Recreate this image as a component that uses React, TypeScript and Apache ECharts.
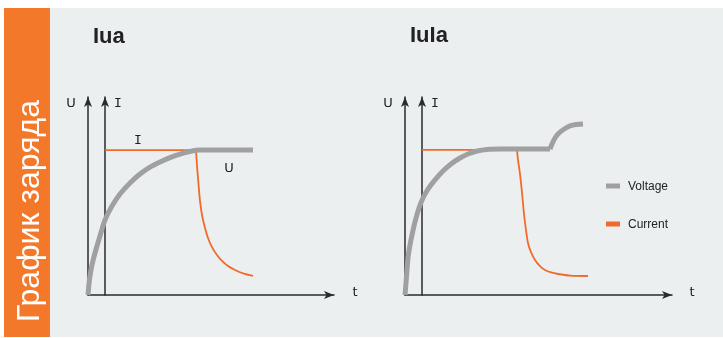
import React, { useEffect, useRef } from "react";
import * as echarts from "echarts";

// ---- data ----
const sideTitle = "График заряда";
const chartTitles = ["Iua", "IuIa"];
const legendNames = ["Voltage", "Current"];
const axisNames = ["U", "I", "t"];
const curveLabels = ["I", "U"];

// points: [t, value], t on 0..~100, value on 0..100
const iuaVoltage: [number, number][] = [
  [0, 0], [0.4, 5.6], [0.8, 9.6], [1.6, 15.2], [2.8, 21.2], [4.8, 29.8],
  [6.8, 37.9], [9.6, 44.9], [12.8, 51], [16.8, 56.6], [20.8, 61.1],
  [24.8, 64.6], [28.8, 67.2], [32.8, 69.4], [36.8, 71.2], [40.8, 72.5],
  [44.8, 73.2], [55, 73.2], [66, 73.2],
];
const iuaCurrentFlat: [number, number][] = [[6.8, 73.2], [43.2, 73.2]];
const iuaCurrentDecay: [number, number][] = [
  [43.2, 73.2], [43.4, 69.2], [43.6, 65.2], [44, 59.1], [44.4, 53],
  [44.8, 47.5], [45.6, 40.4], [46.8, 33.8], [48, 28.8], [49.6, 24.2],
  [51.6, 20.2], [53.6, 17.2], [56, 14.6], [58.8, 12.6], [62, 10.9], [66, 9.6],
];

const iuiaVoltageRise: [number, number][] = [
  [0, 0], [0.4, 6.1], [0.8, 12.6], [1.2, 18.7], [2, 25.3], [2.8, 30.3],
  [4, 36.9], [5.6, 43.9], [7.2, 49], [9.2, 53.5], [12, 58.1], [15.2, 62.6],
  [18.4, 66.2], [22, 69.2], [25.2, 71.2], [28.8, 72.7], [32.8, 73.5],
  [38, 73.7], [48, 73.7], [58, 73.7],
];
const iuiaVoltageBump: [number, number][] = [
  [58, 73.7], [58.8, 76.3], [60, 79.3], [61.6, 81.8], [64, 84.1],
  [66, 85.4], [68.4, 86.1], [71.2, 86.4],
];
const iuiaCurrentFlat: [number, number][] = [[6.8, 73.3], [44.8, 73.3]];
const iuiaCurrentDecay: [number, number][] = [
  [44.8, 73.3], [45.2, 68.2], [45.8, 63.1], [46.4, 56.6], [47, 49],
  [47.6, 40.9], [48.4, 32.8], [49.2, 26.3], [50.4, 21.7], [52, 17.7],
  [54, 14.6], [56, 12.6], [58.4, 11.4], [61.2, 10.6], [66, 9.8], [73.2, 9.6],
];

// ---- styles ----
const ORANGE_BAND = "#F47829";
const PANEL_BG = "#ECEFF0";
const AXIS_COLOR = "#272B30";
const VOLT_COLOR = "#A0A0A0";
const CURR_COLOR = "#F26A2B";
const TEXT_COLOR = "#222222";

export default function App() {
  const ref = useRef<HTMLDivElement>(null);

  useEffect(() => {
    if (!ref.current) return;
    const chart = echarts.init(ref.current, undefined, { renderer: "svg" });

    const axisLine = {
      show: true,
      onZero: false,
      symbol: ["none", "arrow"],
      symbolSize: [6, 10],
      lineStyle: { color: AXIS_COLOR, width: 1.5 },
    };
    const hiddenParts = {
      axisTick: { show: false },
      axisLabel: { show: false },
      splitLine: { show: false },
    };
    const xAx = (gridIndex: number, max: number) => ({
      type: "value", gridIndex, min: 0, max, axisLine, ...hiddenParts,
    });
    const yAx = (gridIndex: number, offset: number) => ({
      type: "value", gridIndex, min: 0, max: 100, position: "left", offset,
      axisLine, ...hiddenParts,
    });

    const line = (
      name: string, data: [number, number][], idx: number, yIdx: number,
      color: string, width: number, smooth: number | boolean, z: number
    ) => ({
      type: "line", name, data, xAxisIndex: idx, yAxisIndex: yIdx,
      showSymbol: false, symbol: "none", smooth, z, silent: true,
      lineStyle: { color, width, cap: "butt" }, itemStyle: { color },
      emphasis: { disabled: true },
    });

    const txt = (
      text: string, x: number, y: number, size: number, font: string,
      extra: any = {}
    ) => ({
      type: "text", x, y, z: 100, silent: true,
      style: {
        text, fill: TEXT_COLOR, font: `${extra.weight || "normal"} ${size}px ${font}`,
        align: extra.align || "center", verticalAlign: "middle",
      },
    });

    const option: any = {
      animation: false,
      grid: [
        { left: 88, top: 97, width: 246, height: 198 },
        { left: 405, top: 97, width: 267, height: 198 },
      ],
      xAxis: [xAx(0, 98.4), xAx(1, 106.8)],
      yAxis: [yAx(0, 0), yAx(0, -17), yAx(1, 0), yAx(1, -17)],
      legend: {
        orient: "vertical",
        left: 606,
        top: 180,
        padding: 0,
        itemGap: 26,
        itemWidth: 14,
        itemHeight: 5,
        icon: "rect",
        selectedMode: false,
        data: legendNames,
        textStyle: { fontFamily: "'Liberation Sans', Arial", fontSize: 12, color: TEXT_COLOR, padding: [0, 0, 0, 3] },
      },
      series: [
        line(legendNames[1], iuaCurrentFlat, 0, 0, CURR_COLOR, 1.8, false, 3),
        line(legendNames[1], iuaCurrentDecay, 0, 0, CURR_COLOR, 1.8, 0.3, 3),
        line(legendNames[0], iuaVoltage, 0, 0, VOLT_COLOR, 5, 0.3, 4),
        line(legendNames[1], iuiaCurrentFlat, 1, 2, CURR_COLOR, 1.8, false, 3),
        line(legendNames[1], iuiaCurrentDecay, 1, 2, CURR_COLOR, 1.8, 0.3, 3),
        line(legendNames[0], iuiaVoltageRise, 1, 2, VOLT_COLOR, 5, 0.3, 4),
        line(legendNames[0], iuiaVoltageBump, 1, 2, VOLT_COLOR, 5, 0.3, 4),
      ],
      graphic: [
        { type: "rect", z: -10, silent: true, shape: { x: 4, y: 8, width: 46, height: 329 }, style: { fill: ORANGE_BAND } },
        { type: "rect", z: -10, silent: true, shape: { x: 50, y: 8, width: 673, height: 329 }, style: { fill: PANEL_BG } },
        {
          type: "text", x: 28, y: 211, z: 100, silent: true, rotation: Math.PI / 2,
          style: {
            text: sideTitle, fill: "#FFFFFF", font: "normal 32px 'Liberation Sans', Arial, sans-serif",
            align: "center", verticalAlign: "middle",
          },
        },
        txt(chartTitles[0], 93, 35, 22, "'Liberation Sans', Arial, sans-serif", { weight: "bold", align: "left" }),
        txt(chartTitles[1], 410, 34, 22, "'Liberation Sans', Arial, sans-serif", { weight: "bold", align: "left" }),
        txt(axisNames[0], 71, 102, 13, "'DejaVu Sans'"),
        txt(axisNames[1], 118, 102, 13, "'DejaVu Sans Mono'"),
        txt(axisNames[2], 355, 291, 13, "'DejaVu Sans'"),
        txt(axisNames[0], 388, 102, 13, "'DejaVu Sans'"),
        txt(axisNames[1], 435, 102, 13, "'DejaVu Sans Mono'"),
        txt(axisNames[2], 692, 291, 13, "'DejaVu Sans'"),
        txt(curveLabels[0], 138, 139, 13, "'DejaVu Sans Mono'"),
        txt(curveLabels[1], 229, 167, 13, "'DejaVu Sans'"),
      ],
    };

    chart.setOption(option);
    return () => chart.dispose();
  }, []);

  return (
    <div
      ref={ref}
      style={{ position: "fixed", left: 0, top: 0, width: 723, height: 338 }}
    />
  );
}
